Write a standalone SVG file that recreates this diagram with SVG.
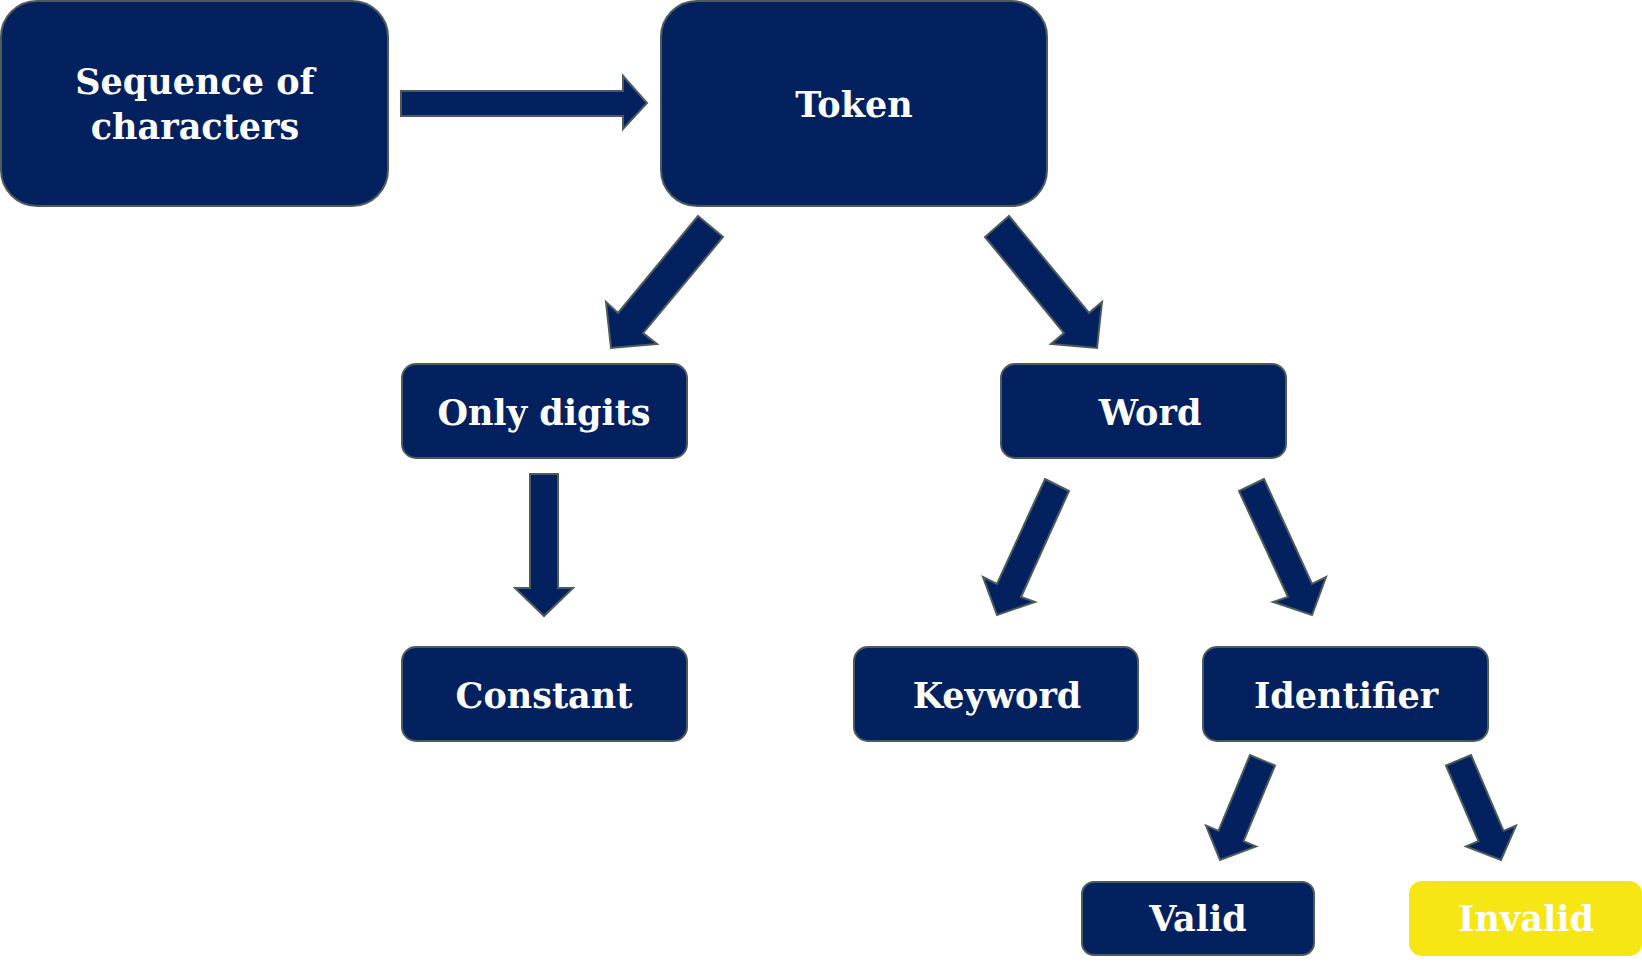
<svg xmlns="http://www.w3.org/2000/svg" width="1642" height="963" viewBox="0 0 1642 963">
<style>
.box{fill:#03215F;stroke:#4D5B5C;stroke-width:2}
.yel{fill:#F5E614;stroke:#F5E614;stroke-width:2}
.arr{fill:#03215F;stroke:#4D5B5C;stroke-width:2;stroke-linejoin:miter}
.t{font-family:"DejaVu Serif","Liberation Serif",serif;font-weight:bold;font-size:35px;fill:#FFFFFF;text-anchor:middle}
</style>
<rect width="1642" height="963" fill="#FFFFFF"/>
<g id="seq"><rect class="box" x="1" y="1" width="387" height="205" rx="36"/>
<text class="t" x="195" y="94">Sequence of</text><text class="t" x="195" y="139">characters</text></g>
<g id="token"><rect class="box" x="661" y="1" width="386" height="205" rx="36"/>
<text class="t" x="854" y="117">Token</text></g>
<g id="digits"><rect class="box" x="402" y="364" width="285" height="94" rx="14"/>
<text class="t" x="544" y="425">Only digits</text></g>
<g id="constant"><rect class="box" x="402" y="647" width="285" height="94" rx="14"/>
<text class="t" x="544" y="708">Constant</text></g>
<g id="word"><rect class="box" x="1001" y="364" width="285" height="94" rx="14"/>
<text class="t" x="1150" y="425">Word</text></g>
<g id="keyword"><rect class="box" x="854" y="647" width="284" height="94" rx="14"/>
<text class="t" x="997" y="708">Keyword</text></g>
<g id="identifier"><rect class="box" x="1203" y="647" width="285" height="94" rx="14"/>
<text class="t" x="1346" y="708">Identifier</text></g>
<g id="valid"><rect class="box" x="1082" y="882" width="232" height="73" rx="12"/>
<text class="t" x="1198" y="931">Valid</text></g>
<g id="invalid"><rect class="yel" x="1410" y="882" width="231" height="73" rx="12"/>
<text class="t" x="1526" y="931">Invalid</text></g>
<g id="connectors">
<polygon class="arr" points="401,91 623,91 623,76 647,103 623,129 623,116 401,116"/>
<polygon class="arr" points="698,216 723,237 643,333 657,344 611,348 606,302 618,313"/>
<polygon class="arr" points="1009,216 985,237 1064,333 1051,344 1097,348 1102,302 1089,313"/>
<polygon class="arr" points="530,474 558,474 558,588 573,588 544,616 515,588 530,588"/>
<polygon class="arr" points="1045,479 1069,491 1021,597 1035,602 997,615 983,577 997,584"/>
<polygon class="arr" points="1264,479 1239,491 1288,597 1273,602 1312,615 1326,577 1312,584"/>
<polygon class="arr" points="1275,765.5 1243.5,841.2 1256,846.4 1220,860 1206,825.6 1218.5,830.8 1250,755"/>
<polygon class="arr" points="1446,765.5 1478.5,841.2 1466,846.4 1501,860 1516,825.6 1503.5,830.8 1471,755"/>
</g>
</svg>
